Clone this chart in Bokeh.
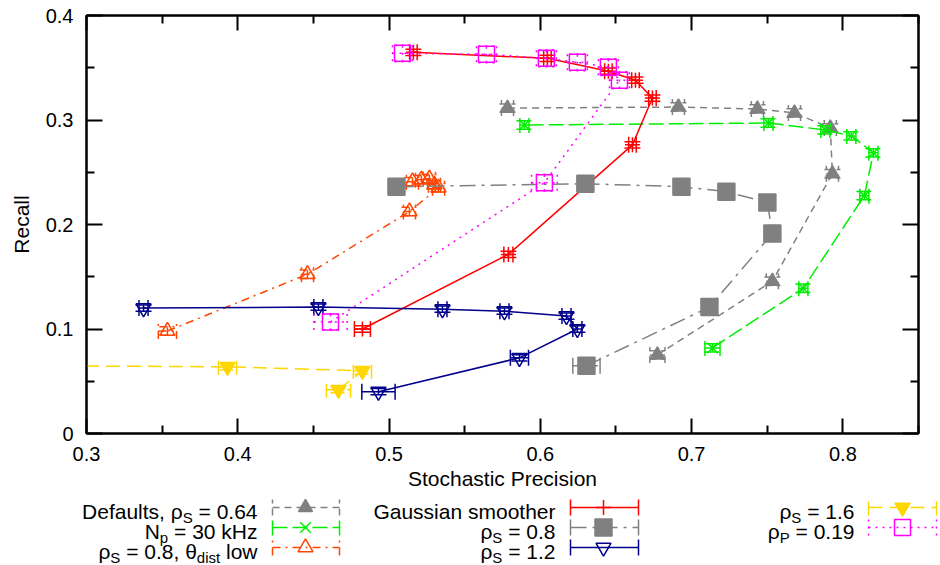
import math
from bokeh.plotting import figure
from bokeh.models import Range1d, FixedTicker, LinearAxis, CustomLabelingPolicy
from bokeh.layouts import column
from bokeh.embed import file_html
from bokeh.resources import INLINE
from bokeh.core.properties import value

FONT = "Liberation Sans"

# ---------------- data ----------------
x_ticks = [0.3, 0.4, 0.5, 0.6, 0.7, 0.8]
x_tick_labels = ["0.3", "0.4", "0.5", "0.6", "0.7", "0.8"]
x_minor_ticks = [0.35, 0.45, 0.55, 0.65, 0.75, 0.85]
y_ticks = [0.0, 0.1, 0.2, 0.3, 0.4]
y_tick_labels = ["0", "0.1", "0.2", "0.3", "0.4"]
y_minor_ticks = [0.05, 0.15, 0.25, 0.35]

# Defaults, rho_S = 0.64
defaults_x = [0.6774, 0.7534, 0.7931, 0.7917, 0.7680, 0.7435, 0.6913, 0.5783]
defaults_y = [0.0752, 0.1457, 0.2486, 0.2924, 0.3067, 0.3105, 0.3124, 0.3114]
defaults_dx = [0.005, 0.004, 0.004, 0.004, 0.004, 0.004, 0.004, 0.004]
defaults_dy = [0.004, 0.004, 0.004, 0.004, 0.004, 0.004, 0.004, 0.004]

# N_p = 30 kHz
np30_x = [0.7138, 0.7739, 0.8142, 0.8202, 0.8056, 0.7884, 0.7508, 0.5895]
np30_y = [0.0819, 0.1390, 0.2276, 0.2686, 0.2848, 0.2905, 0.2971, 0.2952]
np30_dx = [0.005, 0.003, 0.003, 0.003, 0.003, 0.003, 0.003, 0.003]
np30_dy = [0.004, 0.004, 0.004, 0.004, 0.004, 0.004, 0.004, 0.004]

# rho_S = 0.8, theta_dist low
thlow_x = [0.3535, 0.4461, 0.5135, 0.5327, 0.5300, 0.5267, 0.5214, 0.5155]
thlow_y = [0.0981, 0.1524, 0.2124, 0.2352, 0.2381, 0.2438, 0.2429, 0.2410]
thlow_dx = [0.006, 0.004, 0.004, 0.004, 0.004, 0.004, 0.004, 0.004]
thlow_dy = [0.004, 0.004, 0.004, 0.004, 0.004, 0.004, 0.004, 0.004]

# Gaussian smoother
gauss_x = [0.4824, 0.5789, 0.6609, 0.6741, 0.6629, 0.6450, 0.6047, 0.5161]
gauss_y = [0.1000, 0.1714, 0.2762, 0.3210, 0.3381, 0.3467, 0.3590, 0.3648]
gauss_dx = [0.0053, 0.003, 0.0025, 0.0025, 0.0025, 0.0025, 0.0025, 0.0025]
gauss_dy = [0.003, 0.003, 0.003, 0.003, 0.003, 0.003, 0.003, 0.003]

# rho_S = 0.8
rs08_x = [0.6305, 0.7118, 0.7534, 0.7501, 0.7230, 0.6933, 0.6298, 0.5049]
rs08_y = [0.0648, 0.1210, 0.1914, 0.2210, 0.2314, 0.2362, 0.2390, 0.2362]
rs08_dx = [0.009, 0.004, 0.004, 0.004, 0.004, 0.004, 0.004, 0.004]
rs08_dy = [0.004, 0.004, 0.004, 0.004, 0.004, 0.004, 0.004, 0.004]

# rho_S = 1.2
rs12_x = [0.4930, 0.5862, 0.6245, 0.6173, 0.5763, 0.5353, 0.4533, 0.3377]
rs12_y = [0.0400, 0.0724, 0.1000, 0.1124, 0.1171, 0.1190, 0.1210, 0.1200]
rs12_dx = [0.011, 0.006, 0.003, 0.003, 0.003, 0.003, 0.003, 0.003]
rs12_dy = [0.003, 0.003, 0.003, 0.003, 0.003, 0.003, 0.003, 0.003]

# rho_S = 1.6
rs16_x = [0.4666, 0.4824, 0.3932, 0.2500]
rs16_y = [0.0419, 0.0600, 0.0638, 0.0650]
rs16_dx = [0.008, 0.006, 0.006, 0.006]
rs16_dy = [0.003, 0.003, 0.003, 0.003]

# rho_P = 0.19
rp19_x = [0.4613, 0.6027, 0.6523, 0.6450, 0.6245, 0.6040, 0.5644, 0.5089]
rp19_y = [0.1067, 0.2400, 0.3381, 0.3505, 0.3552, 0.3590, 0.3629, 0.3638]
rp19_dx = [0.011, 0.0085, 0.0066, 0.0066, 0.0066, 0.0066, 0.0066, 0.0066]
rp19_dy = [0.008, 0.008, 0.008, 0.008, 0.008, 0.008, 0.008, 0.008]

# ---------------- styles ----------------
series = [
    dict(x=defaults_x, y=defaults_y, dx=defaults_dx, dy=defaults_dy, color="#808080", dash="7 5",
         marker="triangle", filled=True, size=14, col=0, row=0,
         label=[("Defaults, ρ", False), ("S", True), (" = 0.64", False)]),
    dict(x=np30_x, y=np30_y, dx=np30_dx, dy=np30_dy, color="#00ee00", dash="15 5",
         marker="x", filled=False, size=15, col=0, row=1,
         label=[("N", False), ("p", True), (" = 30 kHz", False)]),
    dict(x=thlow_x, y=thlow_y, dx=thlow_dx, dy=thlow_dy, color="#ff4500", dash="8 5 2 5",
         marker="triangle", filled=False, size=15, col=0, row=2,
         label=[("ρ", False), ("S", True), (" = 0.8, θ", False), ("dist", True), (" low", False)]),
    dict(x=gauss_x, y=gauss_y, dx=gauss_dx, dy=gauss_dy, color="#ff0000", dash="solid",
         marker="cross", filled=False, size=15, col=1, row=0,
         label=[("Gaussian smoother", False)]),
    dict(x=rs08_x, y=rs08_y, dx=rs08_dx, dy=rs08_dy, color="#808080", dash="16 6 3 6",
         marker="square", filled=True, size=17, col=1, row=1,
         label=[("ρ", False), ("S", True), (" = 0.8", False)]),
    dict(x=rs12_x, y=rs12_y, dx=rs12_dx, dy=rs12_dy, color="#00008b", dash="solid",
         marker="inverted_triangle", filled=False, size=15, col=1, row=2,
         label=[("ρ", False), ("S", True), (" = 1.2", False)]),
    dict(x=rs16_x, y=rs16_y, dx=rs16_dx, dy=rs16_dy, color="#ffd700", dash="14 7",
         marker="inverted_triangle", filled=True, size=15, col=2, row=0,
         label=[("ρ", False), ("S", True), (" = 1.6", False)]),
    dict(x=rp19_x, y=rp19_y, dx=rp19_dx, dy=rp19_dy, color="#ff00ff", dash="2 5",
         marker="square", filled=False, size=16, col=2, row=1,
         label=[("ρ", False), ("P", True), (" = 0.19", False)]),
]

W_TOTAL = 940
H_MAIN = 492
H_LEG = 565 - H_MAIN
CAP = 16
LW = 1.5

# ---------------- main plot ----------------
p = figure(width=W_TOTAL, height=H_MAIN, x_range=Range1d(0.3, 0.85), y_range=Range1d(0.0, 0.4),
           output_backend="svg", toolbar_location=None,
           min_border_left=86, min_border_right=22, min_border_top=15, min_border_bottom=H_MAIN - 15 - 420)
p.frame_align = False
p.grid.visible = False
p.outline_line_color = "black"
p.outline_line_width = 2
p.background_fill_color = "white"
p.border_fill_color = "white"


def style_axis(ax, major_in, minor_in):
    ax.axis_line_width = 2
    ax.axis_line_color = "black"
    ax.major_tick_line_width = 2
    ax.minor_tick_line_width = 2
    ax.major_tick_in = major_in
    ax.major_tick_out = 0
    ax.minor_tick_in = minor_in
    ax.minor_tick_out = 0
    ax.major_label_text_font = FONT
    ax.major_label_text_font_size = "20px"
    ax.major_label_text_color = "black"
    ax.axis_label_text_font = FONT
    ax.axis_label_text_font_size = "21px"
    ax.axis_label_text_font_style = "normal"
    ax.axis_label_text_color = "black"


xa = p.xaxis[0]
xa.ticker = FixedTicker(ticks=x_ticks, minor_ticks=x_minor_ticks)
xa.major_label_overrides = dict(zip(x_ticks, x_tick_labels))
xa.axis_label = "Stochastic Precision"
style_axis(xa, 15, 8)
xa.major_label_standoff = 13
xa.axis_label_standoff = 3

ya = p.yaxis[0]
ya.ticker = FixedTicker(ticks=y_ticks, minor_ticks=y_minor_ticks)
ya.major_label_overrides = dict(zip(y_ticks, y_tick_labels))
ya.axis_label = "Recall"
style_axis(ya, 16, 8)
ya.major_label_standoff = 13
ya.axis_label_standoff = 10

top = LinearAxis(ticker=FixedTicker(ticks=x_ticks, minor_ticks=x_minor_ticks))
style_axis(top, 15, 8)
top.major_label_policy = CustomLabelingPolicy(code="return false")
top.major_label_text_font_size = "1px"
top.major_label_standoff = 0
p.add_layout(top, "above")

right = LinearAxis(ticker=FixedTicker(ticks=y_ticks, minor_ticks=y_minor_ticks))
style_axis(right, 16, 8)
right.major_label_policy = CustomLabelingPolicy(code="return false")
right.major_label_text_font_size = "1px"
right.major_label_standoff = 0
p.add_layout(right, "right")

for s in series:
    c = s["color"]
    xs, ys, dx, dy = s["x"], s["y"], s["dx"], s["dy"]
    p.line(xs, ys, line_color=c, line_width=LW, line_dash=s["dash"])
    # x error bars
    x0 = [a - d for a, d in zip(xs, dx)]
    x1 = [a + d for a, d in zip(xs, dx)]
    p.segment(x0=x0, y0=ys, x1=x1, y1=ys, line_color=c, line_width=LW, line_dash=s["dash"])
    p.scatter(x=x0 + x1, y=ys + ys, marker="dash", size=CAP, angle=math.pi / 2,
              line_color=c, line_width=LW, line_dash=s["dash"])
    # y error bars
    y0 = [b - d for b, d in zip(ys, dy)]
    y1 = [b + d for b, d in zip(ys, dy)]
    p.segment(x0=xs, y0=y0, x1=xs, y1=y1, line_color=c, line_width=LW, line_dash=s["dash"])
    p.scatter(x=xs + xs, y=y0 + y1, marker="dash", size=CAP, angle=0,
              line_color=c, line_width=LW, line_dash=s["dash"])
    # markers
    p.scatter(x=xs, y=ys, marker=s["marker"], size=s["size"],
              fill_color=c if s["filled"] else None, line_color=c, line_width=LW)

# ---------------- legend ----------------
lg = figure(width=W_TOTAL, height=H_LEG, x_range=Range1d(0, W_TOTAL), y_range=Range1d(H_LEG, 0),
            output_backend="svg", toolbar_location=None,
            min_border_left=0, min_border_right=0, min_border_top=0, min_border_bottom=0,
            x_axis_type=None, y_axis_type=None)
lg.frame_align = False
lg.outline_line_color = None
lg.grid.visible = False
lg.background_fill_color = "white"
lg.border_fill_color = "white"

HW = {' ': 278, ',': 278, '.': 278, '=': 584, 'D': 722, 'G': 778, 'N': 722, 'P': 667, 'S': 667,
      'a': 556, 'd': 556, 'e': 556, 'f': 278, 'h': 556, 'i': 222, 'k': 500, 'l': 222, 'm': 833,
      'n': 556, 'o': 556, 'p': 556, 'r': 333, 's': 500, 't': 278, 'u': 556, 'w': 722, 'z': 500,
      'H': 722, 'ρ': 572, 'θ': 556}


def tw(txt, size):
    return sum(HW.get(ch, 556) for ch in txt) * size / 1000.0


col_text_right = [257, 555, 854]
col_sample = [(272, 339), (570, 638), (868, 936)]
col_marker = [305, 603, 902]
row_line = [15, 35, 55]
row_base = [19, 39, 59]
SUB_DY = 6
MAIN_SIZE = 21
SUB_SIZE = 15

for s in series:
    c = s["color"]
    ci, ri = s["col"], s["row"]
    xr = col_text_right[ci]
    yb = row_base[ri]
    for txt, sub in reversed(s["label"]):
        size = SUB_SIZE if sub else MAIN_SIZE
        body = txt.lstrip(" ")
        lead = len(txt) - len(body)
        lg.text(x=[xr], y=[yb + (SUB_DY if sub else 0)], text=[body], text_align="right",
                text_baseline="alphabetic", text_font=value(FONT), text_font_size=f"{size}px",
                text_color="black")
        xr -= tw(body, size) + lead * tw(" ", size)
    a, b = col_sample[ci]
    yl = row_line[ri]
    lg.segment(x0=[a], y0=[yl], x1=[b], y1=[yl], line_color=c, line_width=LW, line_dash=s["dash"])
    lg.scatter(x=[a, b], y=[yl, yl], marker="dash", size=CAP, angle=math.pi / 2,
               line_color=c, line_width=LW, line_dash=s["dash"])
    lg.scatter(x=[col_marker[ci]], y=[yl], marker=s["marker"], size=s["size"],
               fill_color=c if s["filled"] else None, line_color=c, line_width=LW)

layout = column(p, lg, spacing=0)
open("out.html", "w").write(file_html(layout, INLINE))
